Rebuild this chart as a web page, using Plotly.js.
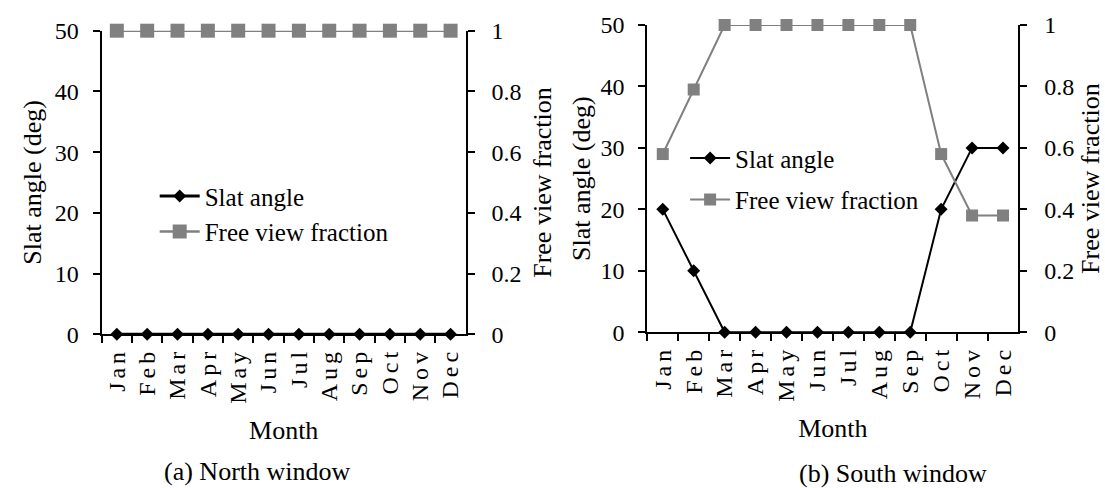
<!DOCTYPE html>
<html><head><meta charset="utf-8">
<script src="https://cdn.plot.ly/plotly-3.0.1.min.js"></script>
<style>
html,body{margin:0;padding:0;background:#fff;}
#chart{width:1105px;height:488px;}
g.xtick > text, g.x2tick > text{letter-spacing:4px;}
</style></head><body><div id="chart"></div>
<script>
const months = ['Jan','Feb','Mar','Apr','May','Jun','Jul','Aug','Sep','Oct','Nov','Dec'];
const northSlatAngle = [0,0,0,0,0,0,0,0,0,0,0,0];
const northFreeView = [1,1,1,1,1,1,1,1,1,1,1,1];
const southSlatAngle = [20,10,0,0,0,0,0,0,0,20,30,30];
const southFreeView = [0.58,0.79,1,1,1,1,1,1,1,0.58,0.38,0.38];
const slatTicks = [0,10,20,30,40,50];
const fvfTicks = [0,0.2,0.4,0.6,0.8,1];
const seriesNames = ['Slat angle','Free view fraction'];
const captions = ['(a) North window','(b) South window'];

const FONT = '"Liberation Serif", "Times New Roman", serif';
const BLACK = '#000000', GRAY = '#808080';

const traces = [
  {x: months, y: northSlatAngle, name: seriesNames[0], xaxis:'x', yaxis:'y', legend:'legend', legendgroup:'a1',
   mode:'lines+markers', cliponaxis:false, line:{color:BLACK,width:3}, marker:{symbol:'diamond',size:10,color:BLACK}},
  {x: months, y: northFreeView, name: seriesNames[1], xaxis:'x', yaxis:'y2', legend:'legend', legendgroup:'a2',
   mode:'lines+markers', cliponaxis:false, line:{color:GRAY,width:2.5}, marker:{symbol:'square',size:14,color:GRAY}},
  {x: months, y: southSlatAngle, name: seriesNames[0], xaxis:'x2', yaxis:'y3', legend:'legend2', legendgroup:'b1',
   mode:'lines+markers', cliponaxis:false, line:{color:BLACK,width:2}, marker:{symbol:'diamond',size:10,color:BLACK}},
  {x: months, y: southFreeView, name: seriesNames[1], xaxis:'x2', yaxis:'y4', legend:'legend2', legendgroup:'b2',
   mode:'lines+markers', cliponaxis:false, line:{color:GRAY,width:2}, marker:{symbol:'square',size:12,color:GRAY}}
];

function xAx(domain, anchor){
  return {domain:domain, anchor:anchor, type:'category', categoryorder:'array', categoryarray:months,
    range:[-0.5,11.5], showline:true, linecolor:BLACK, linewidth:2, ticks:'outside', ticklen:7, tickwidth:2,
    tickcolor:BLACK, tickson:'boundaries', tickangle:-90, showgrid:false, zeroline:false,
    tickfont:{family:FONT,size:24,color:BLACK}, ticklabelstandoff:2,
    title:{text:'Month', font:{family:FONT,size:26,color:BLACK}, standoff:18}};
}
function yAx(domain, anchor, tickvals, range, side, overlay, title, standoff, labelOff){
  const a = {domain:domain, anchor:anchor, range:range, tickmode:'array', tickvals:tickvals, side:side,
    showline:true, linecolor:BLACK, linewidth:2, ticks:'outside', ticklen:7, tickwidth:2, tickcolor:BLACK,
    showgrid:false, zeroline:false, tickfont:{family:FONT,size:24,color:BLACK}, ticklabelstandoff:labelOff,
    title:{text:title, font:{family:FONT,size:26,color:BLACK}, standoff:standoff}};
  if(overlay){ a.overlaying = overlay; delete a.domain; }
  return a;
}

const layout = {
  width:1105, height:488, margin:{l:0,r:0,t:0,b:0}, paper_bgcolor:'#fff', plot_bgcolor:'rgba(0,0,0,0)',
  font:{family:FONT,color:BLACK},
  xaxis: xAx([0.0920,0.4215],'y'),
  yaxis: yAx([0.3150,0.9371],'x',slatTicks,[0,50],'left',null,'Slat angle (deg)',6,9),
  yaxis2: yAx(null,'x',fvfTicks,[0,1],'right','y','Free view fraction',12,12),
  xaxis2: xAx([0.5858,0.9217],'y3'),
  yaxis3: yAx([0.3191,0.9488],'x2',slatTicks,[0,50],'left',null,'Slat angle (deg)',2,9),
  yaxis4: yAx(null,'x2',fvfTicks,[0,1],'right','y3','Free view fraction',12,12),
  legend:{x:0.140, y:0.645, xanchor:'left', yanchor:'top', bgcolor:'rgba(0,0,0,0)', borderwidth:0,
    font:{family:FONT,size:25,color:BLACK}, tracegroupgap:0, itemwidth:40},
  legend2:{x:0.620, y:0.723, xanchor:'left', yanchor:'top', bgcolor:'rgba(0,0,0,0)', borderwidth:0,
    font:{family:FONT,size:25,color:BLACK}, tracegroupgap:6, itemwidth:40},
  showlegend:true,
  annotations:[
    {text:captions[0], xref:'paper', yref:'paper', x:0.2326, y:0.0348, xanchor:'center', yanchor:'middle',
     showarrow:false, font:{family:FONT,size:26,color:BLACK}},
    {text:captions[1], xref:'paper', yref:'paper', x:0.8077, y:0.0307, xanchor:'center', yanchor:'middle',
     showarrow:false, font:{family:FONT,size:26,color:BLACK}}
  ]
};

Plotly.newPlot('chart', traces, layout, {staticPlot:true, displayModeBar:false});
</script></body></html>
